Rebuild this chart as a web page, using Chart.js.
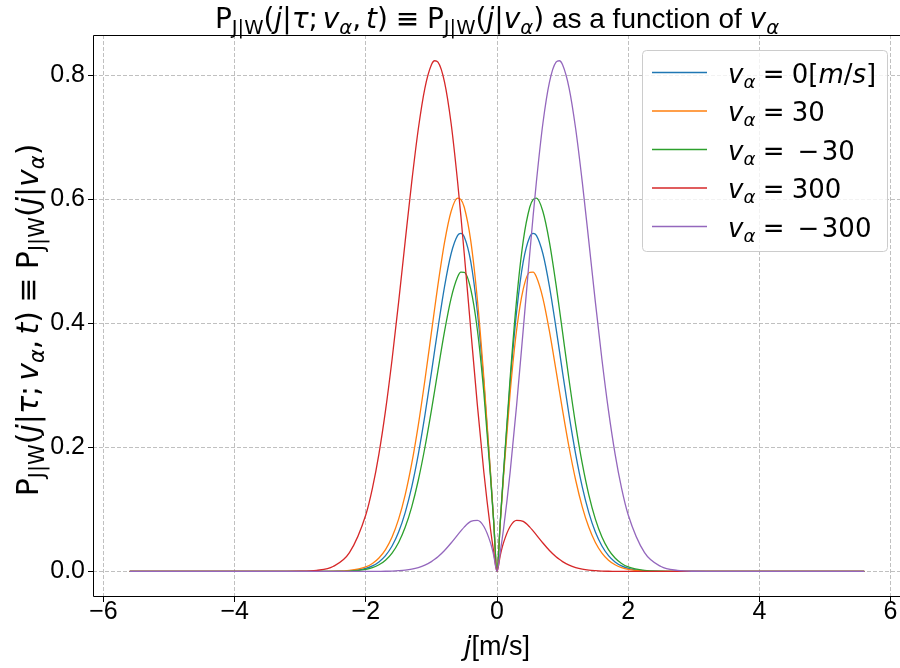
<!DOCTYPE html>
<html>
<head>
<meta charset="utf-8">
<script src="https://cdn.jsdelivr.net/npm/chart.js@4.4.1/dist/chart.umd.min.js"></script>
<style>
  html, body { margin: 0; padding: 0; overflow: hidden; background: #fff; }
  canvas { display: block; }
</style>
</head>
<body>
<canvas id="myChart" width="901" height="668"></canvas>
<script>
// j grid (m/s) the curves are read at
const jValues = [-5.6, -4.0, -3.5, -3.0, -2.75, -2.5, -2.25, -2.0, -1.9, -1.8, -1.7, -1.6, -1.5, -1.4, -1.3,
  -1.2, -1.1, -1.0, -0.95, -0.9, -0.8, -0.7, -0.6, -0.55, -0.5, -0.4, -0.3, -0.2, -0.1, -0.05, 0,
  0.05, 0.1, 0.2, 0.3, 0.4, 0.5, 0.55, 0.6, 0.7, 0.8, 0.9, 0.95, 1.0, 1.1, 1.2, 1.3, 1.4, 1.5,
  1.6, 1.7, 1.8, 1.9, 2.0, 2.25, 2.5, 2.75, 3.0, 3.5, 4.0, 5.6];

// v_alpha = 0
const p0 = [0, 0, 0, 0, 0, 0.0002, 0.0010, 0.0050, 0.0089, 0.0154, 0.0256, 0.0411, 0.0636, 0.0949, 0.1364,
  0.1888, 0.2511, 0.3206, 0.3567, 0.3924, 0.4593, 0.5122, 0.5418, 0.5451, 0.5395, 0.4993, 0.4194, 0.3031, 0.1591, 0.0805, 0,
  0.0805, 0.1591, 0.3031, 0.4194, 0.4993, 0.5395, 0.5451, 0.5418, 0.5122, 0.4593, 0.3924, 0.3567, 0.3206, 0.2511, 0.1888,
  0.1364, 0.0949, 0.0636, 0.0411, 0.0256, 0.0154, 0.0089, 0.0050, 0.0010, 0.0002, 0, 0, 0, 0, 0];
// v_alpha = 30
const p30 = [0, 0, 0, 0, 0, 0.0003, 0.0016, 0.0073, 0.0128, 0.0217, 0.0353, 0.0556, 0.0844, 0.1235, 0.1741,
  0.2360, 0.3078, 0.3853, 0.4243, 0.4624, 0.5306, 0.5803, 0.6018, 0.5995, 0.5875, 0.5330, 0.4390, 0.3111, 0.1601, 0.0802, 0,
  0.0787, 0.1539, 0.2875, 0.3900, 0.4552, 0.4823, 0.4826, 0.4750, 0.4403, 0.3870, 0.3242, 0.2917, 0.2597, 0.1994, 0.1470,
  0.1042, 0.0711, 0.0467, 0.0296, 0.0181, 0.0107, 0.0061, 0.0033, 0.0006, 0.0001, 0, 0, 0, 0, 0];
// v_alpha = -30
const pm30 = [0, 0, 0, 0, 0, 0.0001, 0.0006, 0.0033, 0.0061, 0.0107, 0.0181, 0.0296, 0.0467, 0.0711, 0.1042,
  0.1470, 0.1994, 0.2597, 0.2917, 0.3242, 0.3870, 0.4403, 0.4750, 0.4826, 0.4823, 0.4552, 0.3900, 0.2875, 0.1539, 0.0787, 0,
  0.0802, 0.1601, 0.3111, 0.4390, 0.5330, 0.5875, 0.5995, 0.6018, 0.5803, 0.5306, 0.4624, 0.4243, 0.3853, 0.3078, 0.2360,
  0.1741, 0.1235, 0.0844, 0.0556, 0.0353, 0.0217, 0.0128, 0.0073, 0.0016, 0.0003, 0, 0, 0, 0, 0];
// v_alpha = 300
const p300 = [0, 0, 0, 0.0003, 0.0017, 0.0080, 0.0302, 0.0914, 0.1339, 0.1897, 0.2592, 0.3416, 0.4342, 0.5321, 0.6280,
  0.7133, 0.7789, 0.8167, 0.8233, 0.8209, 0.7888, 0.7225, 0.6275, 0.5721, 0.5130, 0.3899, 0.2689, 0.1596, 0.0688, 0.0315, 0,
  0.0259, 0.0464, 0.0725, 0.0824, 0.0806, 0.0715, 0.0654, 0.0590, 0.0458, 0.0337, 0.0236, 0.0195, 0.0159, 0.0102, 0.0063,
  0.0037, 0.0021, 0.0012, 0.0006, 0.0003, 0.0002, 0.0001, 0, 0, 0, 0, 0, 0, 0, 0];
// v_alpha = -300
const pm300 = [0, 0, 0, 0, 0, 0, 0, 0, 0.0001, 0.0002, 0.0003, 0.0006, 0.0012, 0.0021, 0.0037,
  0.0063, 0.0102, 0.0159, 0.0195, 0.0236, 0.0337, 0.0458, 0.0590, 0.0654, 0.0715, 0.0806, 0.0824, 0.0725, 0.0464, 0.0259, 0,
  0.0315, 0.0688, 0.1596, 0.2689, 0.3899, 0.5130, 0.5721, 0.6275, 0.7225, 0.7888, 0.8209, 0.8233, 0.8167, 0.7789, 0.7133,
  0.6280, 0.5321, 0.4342, 0.3416, 0.2592, 0.1897, 0.1339, 0.0914, 0.0302, 0.0080, 0.0017, 0.0003, 0, 0, 0];

const legendLabels = ["0[m/s]", "30", "\u221230", "300", "\u2212300"];
const xTicks = [-6, -4, -2, 0, 2, 4, 6];
const yTicks = [0, 0.2, 0.4, 0.6, 0.8];
const colors = ["#1f77b4", "#ff7f0e", "#2ca02c", "#d62728", "#9467bd"];
const allSeries = [p0, p30, pm30, p300, pm300];

const SANS = "'Liberation Sans', Arial, sans-serif";
const MATH = "'DejaVu Sans', sans-serif";

// draws a list of text runs (italic / subscript / font) one after the other
function drawRich(ctx, runs, x, y, size, family, align) {
  const fontOf = (r) => (r.i ? "italic " : "") + (r.s ? size * 0.7 : size) + "px " + (r.f || family);
  let total = 0;
  runs.forEach((r) => {
    ctx.font = fontOf(r);
    r.w = ctx.measureText(r.t).width;
    total += r.w + (r.g || 0) * size;
  });
  let cx = align === "center" ? x - total / 2 : x;
  ctx.textAlign = "left";
  ctx.textBaseline = "alphabetic";
  runs.forEach((r) => {
    cx += (r.g || 0) * size;
    ctx.font = fontOf(r);
    ctx.fillText(r.t, cx, y + (r.s ? size * 0.2 : 0));
    cx += r.w;
  });
}

function pRuns() {
  return [
    { t: "P" }, { t: "J|W", s: 1 }, { t: "(" }, { t: "j", i: 1 }, { t: "|" }, { t: "\u03c4", i: 1 }, { t: ";" },
    { t: "v", i: 1, g: 0.17 }, { t: "\u03b1", i: 1, s: 1 }, { t: "," }, { t: "t", i: 1, g: 0.17 }, { t: ")" },
    { t: "\u2261", g: 0.28 }, { t: "P", g: 0.28 }, { t: "J|W", s: 1 }, { t: "(" }, { t: "j", i: 1 }, { t: "|" },
    { t: "v", i: 1 }, { t: "\u03b1", i: 1, s: 1 }, { t: ")" },
  ];
}

function legendRuns(label) {
  const runs = [{ t: "v", i: 1 }, { t: "\u03b1", i: 1, s: 1 }, { t: "=", g: 0.28 }];
  if (label.startsWith("\u2212")) {
    runs.push({ t: "\u2212", g: 0.5 }, { t: label.slice(1), g: 0.1 });
  } else if (label.includes("[")) {
    runs.push({ t: "0[", g: 0.28 }, { t: "m", i: 1 }, { t: "/" }, { t: "s", i: 1 }, { t: "]" });
  } else {
    runs.push({ t: label, g: 0.28 });
  }
  return runs;
}

const decor = {
  id: "decor",
  afterDraw(chart) {
    const { ctx, chartArea: a } = chart;
    ctx.save();
    ctx.fillStyle = "#000";

    // axes spines (the right one falls just outside the picture)
    ctx.strokeStyle = "#000";
    ctx.lineWidth = 1;
    ctx.beginPath();
    ctx.moveTo(a.right, a.top + 0.5);
    ctx.lineTo(a.left + 0.5, a.top + 0.5);
    ctx.lineTo(a.left + 0.5, a.bottom - 0.5);
    ctx.lineTo(a.right, a.bottom - 0.5);
    ctx.stroke();

    // title
    const title = pRuns().concat([{ t: " as a function of ", f: SANS }, { t: "v", i: 1 }, { t: "\u03b1", i: 1, s: 1 }]);
    drawRich(ctx, title, (a.left + a.right) / 2, 28, 28, MATH, "center");

    // x label
    drawRich(ctx, [{ t: "j", i: 1, f: MATH }, { t: "[m/s]" }], (a.left + a.right) / 2, 655, 27, SANS, "center");

    // y label
    ctx.save();
    ctx.translate(38, (a.top + a.bottom) / 2 + 4);
    ctx.rotate(-Math.PI / 2);
    drawRich(ctx, pRuns(), 0, 0, 30, MATH, "center");
    ctx.restore();

    // legend
    ctx.beginPath();
    ctx.roundRect(642.5, 50.5, 245, 201, 4);
    ctx.fillStyle = "rgba(255,255,255,0.8)";
    ctx.fill();
    ctx.strokeStyle = "#cccccc";
    ctx.lineWidth = 1;
    ctx.stroke();
    legendLabels.forEach((label, k) => {
      const y = 72.5 + k * 38.5;
      ctx.strokeStyle = colors[k];
      ctx.lineWidth = 1.5;
      ctx.beginPath();
      ctx.moveTo(652, y);
      ctx.lineTo(707, y);
      ctx.stroke();
      ctx.fillStyle = "#000";
      drawRich(ctx, legendRuns(label), 728, y + 10, 26, MATH, "left");
    });
    ctx.restore();
  },
};

const tickFont = { family: SANS, size: 25, lineHeight: 1 };
const ctx = document.getElementById("myChart");

new Chart(ctx, {
  type: "line",
  data: {
    datasets: allSeries.map((values, k) => ({
      data: jValues.map((j, i) => ({ x: j, y: values[i] })),
      borderColor: colors[k],
      borderWidth: 1.3,
      pointRadius: 0,
      fill: false,
      cubicInterpolationMode: "monotone",
      order: allSeries.length - k,
    })),
  },
  options: {
    responsive: false,
    animation: false,
    layout: { padding: { top: 35, left: 0, right: 0, bottom: 0 } },
    plugins: { legend: { display: false }, title: { display: false }, tooltip: { enabled: false } },
    scales: {
      x: {
        type: "linear",
        min: -6.16,
        max: 6.16,
        afterBuildTicks: (s) => { s.ticks = xTicks.map((v) => ({ value: v })); },
        afterFit: (s) => { s.height = 71; },
        ticks: {
          font: tickFont,
          color: "#000",
          padding: -2,
          maxRotation: 0,
          callback: (v) => (v < 0 ? "\u2212" + Math.abs(v) : String(v)),
        },
        grid: { color: "#b0b0b0", lineWidth: 0.8, tickLength: 5, tickColor: "#000", tickWidth: 1 },
        border: { display: false, dash: [4, 2] },
      },
      y: {
        min: -0.0412,
        max: 0.8648,
        afterBuildTicks: (s) => { s.ticks = yTicks.map((v) => ({ value: v })); },
        afterFit: (s) => { s.width = 93; },
        ticks: { font: tickFont, color: "#000", padding: 3, callback: (v) => v.toFixed(1) },
        grid: { color: "#b0b0b0", lineWidth: 0.8, tickLength: 5, tickColor: "#000", tickWidth: 1 },
        border: { display: false, dash: [4, 2] },
      },
    },
  },
  plugins: [decor],
});
</script>
</body>
</html>
